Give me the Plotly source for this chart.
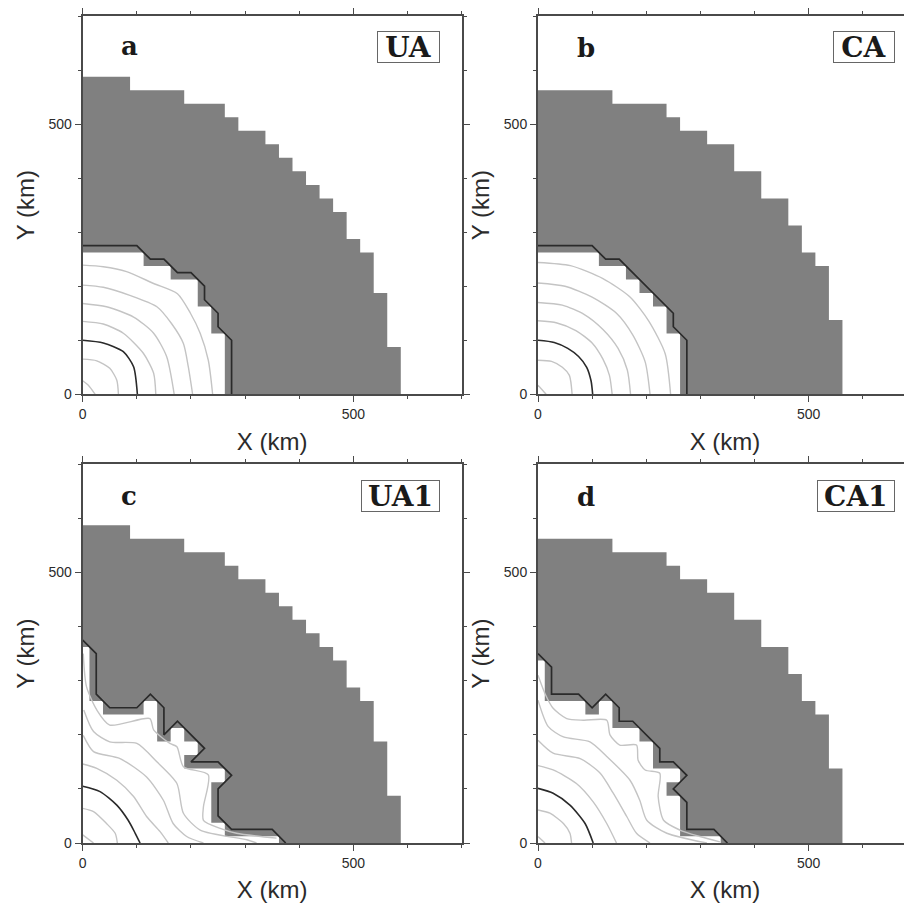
import plotly.graph_objects as go

# Outer staircase: (top of the active region, x where that step ends), km
OUTER_UA_TOP = [587.5, 562.5, 537.5, 512.5, 487.5, 462.5, 437.5, 412.5, 387.5, 362.5, 337.5, 287.5, 262.5, 187.5, 87.5]
OUTER_UA_END = [87.5, 187.5, 262.5, 287.5, 337.5, 362.5, 387.5, 412.5, 437.5, 462.5, 487.5, 512.5, 537.5, 562.5, 587.5]
OUTER_CA_TOP = [562.5, 537.5, 512.5, 487.5, 462.5, 412.5, 362.5, 312.5, 262.5, 237.5, 137.5]
OUTER_CA_END = [137.5, 237.5, 262.5, 312.5, 362.5, 412.5, 462.5, 487.5, 512.5, 537.5, 562.5]

# Unrefined inner (white) regions, polygons in km
WHITE_A_X = [0, 112.5, 112.5, 162.5, 162.5, 212.5, 212.5, 237.5, 237.5, 262.5, 262.5, 0]
WHITE_A_Y = [262.5, 262.5, 237.5, 237.5, 212.5, 212.5, 162.5, 162.5, 112.5, 112.5, 0, 0]
WHITE_B_X = [0, 112.5, 112.5, 162.5, 162.5, 187.5, 187.5, 212.5, 212.5, 237.5, 237.5, 262.5, 262.5, 0]
WHITE_B_Y = [262.5, 262.5, 237.5, 237.5, 212.5, 212.5, 187.5, 187.5, 162.5, 162.5, 112.5, 112.5, 0, 0]
WHITE_C_X = [0, 12.5, 12.5, 37.5, 37.5, 112.5, 112.5, 137.5, 137.5, 162.5, 162.5, 187.5, 187.5, 212.5, 212.5, 187.5, 187.5, 262.5, 262.5, 237.5, 237.5, 262.5, 262.5, 362.5, 362.5, 0]
WHITE_C_Y = [362.5, 362.5, 262.5, 262.5, 237.5, 237.5, 262.5, 262.5, 187.5, 187.5, 212.5, 212.5, 187.5, 187.5, 162.5, 162.5, 137.5, 137.5, 112.5, 112.5, 37.5, 37.5, 12.5, 12.5, 0, 0]
WHITE_D_X = [0, 12.5, 12.5, 87.5, 87.5, 112.5, 112.5, 137.5, 137.5, 187.5, 187.5, 212.5, 212.5, 262.5, 262.5, 237.5, 237.5, 262.5, 262.5, 337.5, 337.5, 0]
WHITE_D_Y = [337.5, 337.5, 262.5, 262.5, 237.5, 237.5, 262.5, 262.5, 212.5, 212.5, 187.5, 187.5, 137.5, 137.5, 112.5, 112.5, 87.5, 87.5, 12.5, 12.5, 0, 0]

# Thick black boundary contours
EDGE_A_X = [0, 100, 125, 150, 175, 200, 225, 225, 250, 250, 275, 275]
EDGE_A_Y = [275, 275, 250, 250, 225, 225, 200, 175, 150, 125, 100, 0]
EDGE_B_X = [0, 100, 125, 150, 250, 250, 275, 275]
EDGE_B_Y = [275, 275, 250, 250, 150, 125, 100, 0]
EDGE_C_X = [0, 25, 25, 50, 100, 125, 150, 150, 175, 225, 200, 250, 275, 250, 250, 275, 350, 375]
EDGE_C_Y = [375, 350, 275, 250, 250, 275, 250, 200, 225, 175, 150, 150, 125, 100, 50, 25, 25, 0]
EDGE_D_X = [0, 25, 25, 75, 100, 125, 150, 150, 175, 225, 225, 250, 275, 250, 275, 275, 325, 350]
EDGE_D_Y = [350, 325, 275, 275, 250, 275, 250, 225, 225, 175, 150, 150, 125, 100, 75, 25, 25, 0]

# Black 100 km level contours
BLACK_A = ([0, 38, 75, 94, 101], [100, 95, 79, 51, 0])
BLACK_B = ([0, 30, 55, 75, 90, 98, 101], [100, 96, 85, 70, 50, 25, 0])
BLACK_C = ([0, 32, 63, 84, 97, 106], [105, 95, 70, 42, 18, 0])
BLACK_D = ([0, 28, 59, 87, 102], [101, 92, 70, 36, 0])

# Grey level contours
GREY_A = [
    ([0, 10, 23], [25, 17, 0]),
    ([0, 26, 50, 63, 66], [65, 62, 48, 26, 0]),
    ([0, 38, 75, 112, 131, 135], [135, 130, 113, 76, 39, 0]),
    ([0, 44, 94, 131, 155, 169], [168, 162, 143, 113, 70, 0]),
    ([0, 38, 87, 137, 164, 186, 195, 203], [202, 198, 183, 162, 131, 94, 51, 0]),
    ([0, 38, 81, 131, 175, 199, 217, 232, 240], [239, 236, 227, 205, 186, 150, 113, 63, 0]),
]
GREY_B = [
    ([0, 15], [17, 0]),
    ([0, 25, 45, 58, 63], [63, 61, 50, 35, 0]),
    ([0, 35, 70, 100, 120, 132, 137], [136, 132, 118, 95, 65, 35, 0]),
    ([0, 45, 85, 120, 148, 165, 171], [170, 165, 148, 120, 85, 45, 0]),
    ([0, 50, 100, 145, 175, 198, 207], [206, 200, 180, 150, 110, 60, 0]),
    ([0, 60, 120, 170, 205, 235, 245], [244, 238, 214, 180, 135, 75, 0]),
]
GREY_C = [
    ([0, 20], [15, 0]),
    ([0, 20, 44, 60, 64], [64, 58, 36, 18, 0]),
    ([0, 26, 63, 94, 118, 143, 158], [146, 138, 116, 86, 49, 21, 0]),
    ([1, 20, 69, 118, 149, 167, 192, 223], [199, 169, 156, 122, 79, 36, 12, 0]),
    ([2, 20, 50, 100, 137, 174, 186, 217, 303, 321], [246, 206, 187, 184, 150, 110, 55, 24, 6, 0]),
    ([1, 7, 26, 50, 124, 131, 161, 174, 186, 232, 223, 223, 254, 284, 358], [350, 289, 246, 218, 230, 209, 184, 178, 141, 126, 67, 42, 27, 18, 9]),
]
GREY_D = [
    ([0, 13], [12, 0]),
    ([0, 22, 47, 59, 62], [61, 55, 36, 18, 0]),
    ([0, 28, 71, 102, 127, 145], [143, 135, 110, 76, 36, 0]),
    ([0, 28, 78, 115, 139, 164, 182, 207], [190, 166, 156, 129, 92, 49, 18, 0]),
    ([0, 19, 47, 96, 127, 170, 188, 201, 238, 312], [264, 215, 196, 187, 160, 116, 79, 42, 18, 0]),
    ([0, 13, 28, 53, 84, 127, 133, 151, 182, 185, 198, 225, 222, 232, 262, 299, 336], [310, 276, 249, 230, 227, 227, 200, 181, 181, 153, 135, 129, 86, 42, 24, 12, 2]),
]

PANEL_LETTERS = ["a", "b", "c", "d"]
PANEL_NAMES = ["UA", "CA", "UA1", "CA1"]
X_TITLE = "X (km)"
Y_TITLE = "Y (km)"
MAJOR_TICKS = [0, 500]
X_RANGE_LEFT = [0, 700]
X_RANGE_RIGHT = [0, 691]
Y_RANGE = [0, 700]

PAGE_OFFSET = 8  # the page's own body margin
W, H = 912 - PAGE_OFFSET, 903 - PAGE_OFFSET
FILL = "#808080"
FRAME = "#4a4a4a"
GREY = "#c4c4c4"
BLACK = "#2a2a2a"
TXT = "#2b2b2b"
SERIF = "DejaVu Serif"
SANS = "Liberation Sans"


def stair(tops, ends):
    xs, ys = [0], [0]
    prev = 0
    for t, e in zip(tops, ends):
        xs += [prev, e]
        ys += [t, t]
        prev = e
    xs += [prev]
    ys += [0]
    return xs, ys


def px(v):
    return (v - PAGE_OFFSET) / W


def py(v):
    return 1 - (v - PAGE_OFFSET) / H


panels = [
    dict(outer=stair(OUTER_UA_TOP, OUTER_UA_END), white=(WHITE_A_X, WHITE_A_Y), edge=(EDGE_A_X, EDGE_A_Y),
         black=BLACK_A, grey=GREY_A, left=82.7, right=461.7, top=16, bottom=394.3, xr=X_RANGE_LEFT,
         lab=(129, 46), box=(376.7, 439.7, 30.7, 63)),
    dict(outer=stair(OUTER_CA_TOP, OUTER_CA_END), white=(WHITE_B_X, WHITE_B_Y), edge=(EDGE_B_X, EDGE_B_Y),
         black=BLACK_B, grey=GREY_B, left=538, right=912, top=16, bottom=394.3, xr=X_RANGE_RIGHT,
         lab=(586, 48), box=(833.3, 895, 30.7, 63)),
    dict(outer=stair(OUTER_UA_TOP, OUTER_UA_END), white=(WHITE_C_X, WHITE_C_Y), edge=(EDGE_C_X, EDGE_C_Y),
         black=BLACK_C, grey=GREY_C, left=82.7, right=461.7, top=464.3, bottom=843, xr=X_RANGE_LEFT,
         lab=(129, 496), box=(360.7, 439.7, 480, 512)),
    dict(outer=stair(OUTER_CA_TOP, OUTER_CA_END), white=(WHITE_D_X, WHITE_D_Y), edge=(EDGE_D_X, EDGE_D_Y),
         black=BLACK_D, grey=GREY_D, left=538, right=912, top=464.3, bottom=843, xr=X_RANGE_RIGHT,
         lab=(586, 497), box=(817.3, 895, 480, 512)),
]

fig = go.Figure()
annotations = []
layout_axes = {}

for i, p in enumerate(panels):
    n = "" if i == 0 else str(i + 1)
    xa, ya = "x" + n, "y" + n
    fig.add_trace(go.Scatter(x=p["outer"][0], y=p["outer"][1], xaxis=xa, yaxis=ya, mode="lines",
                             fill="toself", fillcolor=FILL, line=dict(width=0), hoverinfo="skip"))
    fig.add_trace(go.Scatter(x=p["white"][0], y=p["white"][1], xaxis=xa, yaxis=ya, mode="lines",
                             fill="toself", fillcolor="white", line=dict(width=0), hoverinfo="skip"))
    for gx, gy in p["grey"]:
        fig.add_trace(go.Scatter(x=gx, y=gy, xaxis=xa, yaxis=ya, mode="lines",
                                 line=dict(color=GREY, width=1.4, shape="spline", smoothing=0.7), hoverinfo="skip"))
    fig.add_trace(go.Scatter(x=p["black"][0], y=p["black"][1], xaxis=xa, yaxis=ya, mode="lines",
                             line=dict(color=BLACK, width=1.6, shape="spline", smoothing=0.7), hoverinfo="skip"))
    fig.add_trace(go.Scatter(x=p["edge"][0], y=p["edge"][1], xaxis=xa, yaxis=ya, mode="lines",
                             line=dict(color=BLACK, width=1.7), hoverinfo="skip"))

    axis_common = dict(
        showgrid=False, zeroline=False, showline=True, linecolor=FRAME, linewidth=2, mirror="allticks",
        ticks="outside", ticklen=6, tickwidth=1, tickcolor=FRAME,
        tickmode="array", tickvals=MAJOR_TICKS, ticktext=[str(v) for v in MAJOR_TICKS],
        tickfont=dict(family=SANS, size=14, color=TXT),
        minor=dict(dtick=100, ticks="outside", ticklen=3, tickwidth=1, tickcolor=FRAME, showgrid=False),
    )
    layout_axes["xaxis" + n] = dict(
        axis_common, domain=[px(p["left"]), px(p["right"])], range=p["xr"], anchor=ya,
        title=dict(text=X_TITLE, standoff=12, font=dict(family=SANS, size=24, color=TXT)))
    layout_axes["yaxis" + n] = dict(
        axis_common, domain=[py(p["bottom"]), py(p["top"])], range=Y_RANGE, anchor=xa,
        title=dict(text=Y_TITLE, standoff=7, font=dict(family=SANS, size=24, color=TXT)))

    annotations.append(dict(text=PANEL_LETTERS[i], xref="paper", yref="paper", x=px(p["lab"][0]),
                            y=py(p["lab"][1]), showarrow=False, xanchor="center", yanchor="middle",
                            font=dict(family=SERIF, size=26, color="#1a1a1a", weight="bold")))
    l, r, t, b = p["box"]
    annotations.append(dict(text=PANEL_NAMES[i], xref="paper", yref="paper", x=px((l + r) / 2),
                            y=py((t + b) / 2), showarrow=False, xanchor="center", yanchor="middle",
                            width=r - l - 2, height=b - t - 2, align="center", valign="middle",
                            bordercolor="#666666", borderwidth=1, borderpad=0, bgcolor="white",
                            font=dict(family=SERIF, size=28, color="#1a1a1a", weight="bold")))

fig.update_layout(width=W, height=H, margin=dict(l=0, r=0, t=0, b=0, autoexpand=False),
                  paper_bgcolor="white", plot_bgcolor="white", showlegend=False,
                  annotations=annotations, **layout_axes)
fig.write_html("out.html")
